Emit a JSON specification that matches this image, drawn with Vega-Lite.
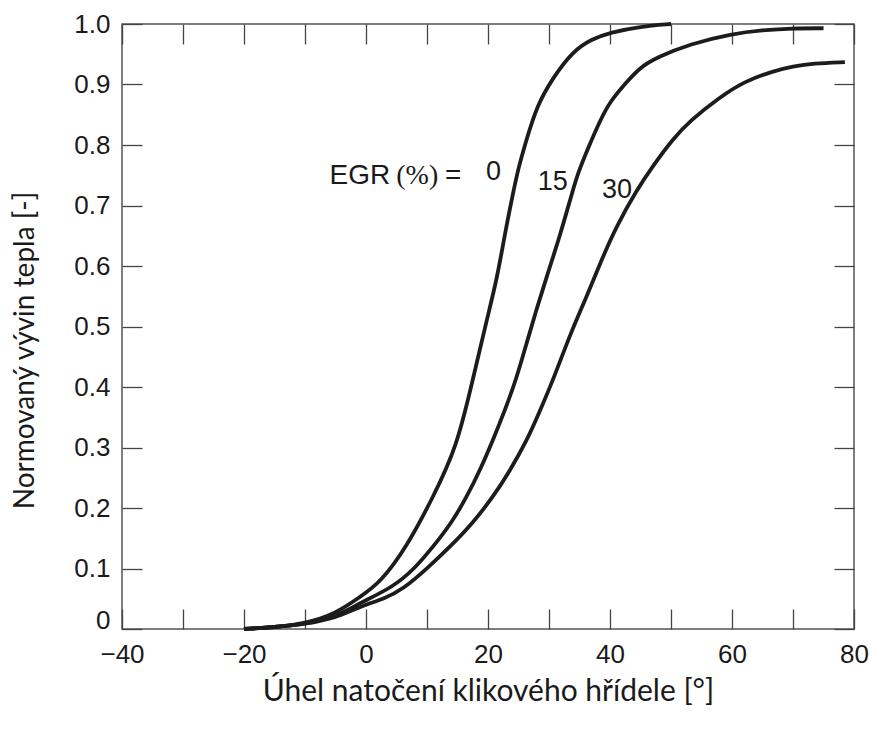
{
  "$schema": "https://vega.github.io/schema/vega-lite/v6.json",
  "width": 732,
  "height": 605,
  "autosize": {"type": "none"},
  "padding": {"left": 122, "top": 24, "right": 17, "bottom": 100},
  "background": "white",
  "config": {
    "view": {"stroke": "#555555", "strokeWidth": 1.5},
    "axis": {
      "grid": false,
      "domain": false,
      "tickColor": "#444444",
      "tickWidth": 1.3,
      "labelFont": "Liberation Sans",
      "labelFontSize": 26,
      "labelColor": "#1a1a1a",
      "titleFont": "Lato",
      "titleFontWeight": "normal",
      "titleColor": "#1a1a1a"
    }
  },
  "datasets": {
    "curves": [
      {"egr": "0", "angle": -20, "q": 0},
      {"egr": "0", "angle": -15, "q": 0.003},
      {"egr": "0", "angle": -10, "q": 0.009},
      {"egr": "0", "angle": -5, "q": 0.025},
      {"egr": "0", "angle": -1, "q": 0.053},
      {"egr": "0", "angle": 2.3, "q": 0.076},
      {"egr": "0", "angle": 6.7, "q": 0.136},
      {"egr": "0", "angle": 11, "q": 0.218},
      {"egr": "0", "angle": 14.9, "q": 0.301},
      {"egr": "0", "angle": 17.5, "q": 0.412},
      {"egr": "0", "angle": 19.8, "q": 0.511},
      {"egr": "0", "angle": 21.5, "q": 0.58},
      {"egr": "0", "angle": 22.8, "q": 0.655},
      {"egr": "0", "angle": 24, "q": 0.715},
      {"egr": "0", "angle": 24.9, "q": 0.759},
      {"egr": "0", "angle": 26.2, "q": 0.805},
      {"egr": "0", "angle": 28, "q": 0.865},
      {"egr": "0", "angle": 30.7, "q": 0.912},
      {"egr": "0", "angle": 33.9, "q": 0.955},
      {"egr": "0", "angle": 37, "q": 0.975},
      {"egr": "0", "angle": 40, "q": 0.986},
      {"egr": "0", "angle": 45, "q": 0.996},
      {"egr": "0", "angle": 50, "q": 1.0},
      {"egr": "15", "angle": -20, "q": 0},
      {"egr": "15", "angle": -15, "q": 0.003},
      {"egr": "15", "angle": -10, "q": 0.008},
      {"egr": "15", "angle": -5, "q": 0.02},
      {"egr": "15", "angle": -1, "q": 0.043},
      {"egr": "15", "angle": 4.4, "q": 0.069},
      {"egr": "15", "angle": 8, "q": 0.1},
      {"egr": "15", "angle": 11, "q": 0.136},
      {"egr": "15", "angle": 14, "q": 0.175},
      {"egr": "15", "angle": 16.5, "q": 0.218},
      {"egr": "15", "angle": 18.8, "q": 0.265},
      {"egr": "15", "angle": 20.8, "q": 0.312},
      {"egr": "15", "angle": 22.8, "q": 0.362},
      {"egr": "15", "angle": 24.7, "q": 0.415},
      {"egr": "15", "angle": 26.4, "q": 0.475},
      {"egr": "15", "angle": 28, "q": 0.53},
      {"egr": "15", "angle": 29.7, "q": 0.585},
      {"egr": "15", "angle": 31.8, "q": 0.65},
      {"egr": "15", "angle": 33.9, "q": 0.725},
      {"egr": "15", "angle": 34.8, "q": 0.755},
      {"egr": "15", "angle": 36.4, "q": 0.795},
      {"egr": "15", "angle": 38.4, "q": 0.841},
      {"egr": "15", "angle": 40, "q": 0.872},
      {"egr": "15", "angle": 42.8, "q": 0.905},
      {"egr": "15", "angle": 44.9, "q": 0.928},
      {"egr": "15", "angle": 47.7, "q": 0.945},
      {"egr": "15", "angle": 53.1, "q": 0.967},
      {"egr": "15", "angle": 60, "q": 0.984},
      {"egr": "15", "angle": 65, "q": 0.99},
      {"egr": "15", "angle": 70, "q": 0.993},
      {"egr": "15", "angle": 75, "q": 0.993},
      {"egr": "30", "angle": -20, "q": 0},
      {"egr": "30", "angle": -15, "q": 0.003},
      {"egr": "30", "angle": -10, "q": 0.008},
      {"egr": "30", "angle": -5, "q": 0.018},
      {"egr": "30", "angle": -1, "q": 0.037},
      {"egr": "30", "angle": 3, "q": 0.05},
      {"egr": "30", "angle": 6.1, "q": 0.066},
      {"egr": "30", "angle": 10, "q": 0.1},
      {"egr": "30", "angle": 13.8, "q": 0.136},
      {"egr": "30", "angle": 17.5, "q": 0.175},
      {"egr": "30", "angle": 20.8, "q": 0.218},
      {"egr": "30", "angle": 23.5, "q": 0.26},
      {"egr": "30", "angle": 26.4, "q": 0.312},
      {"egr": "30", "angle": 28.5, "q": 0.36},
      {"egr": "30", "angle": 31, "q": 0.42},
      {"egr": "30", "angle": 33.5, "q": 0.488},
      {"egr": "30", "angle": 36.2, "q": 0.55},
      {"egr": "30", "angle": 38.4, "q": 0.605},
      {"egr": "30", "angle": 41, "q": 0.665},
      {"egr": "30", "angle": 44.4, "q": 0.726},
      {"egr": "30", "angle": 47, "q": 0.765},
      {"egr": "30", "angle": 50.3, "q": 0.81},
      {"egr": "30", "angle": 53.1, "q": 0.84},
      {"egr": "30", "angle": 58, "q": 0.879},
      {"egr": "30", "angle": 62, "q": 0.905},
      {"egr": "30", "angle": 66.7, "q": 0.922},
      {"egr": "30", "angle": 70, "q": 0.93},
      {"egr": "30", "angle": 73.3, "q": 0.935},
      {"egr": "30", "angle": 78.5, "q": 0.937}
    ],
    "sansLabels": [
      {"text": "EGR", "angle": -1.0, "q": 0.749, "size": 28},
      {"text": "=", "angle": 14.3, "q": 0.749, "size": 28},
      {"text": "0", "angle": 20.9, "q": 0.755, "size": 27},
      {"text": "15", "angle": 30.6, "q": 0.739, "size": 27},
      {"text": "30", "angle": 41.15, "q": 0.726, "size": 27}
    ],
    "serifLabels": [
      {"text": "(%)", "angle": 8.4, "q": 0.749}
    ]
  },
  "layer": [
    {
      "data": {"name": "curves"},
      "mark": {"type": "line", "interpolate": "basis", "color": "#1c1c1c", "strokeWidth": 3.8, "strokeCap": "butt"},
      "encoding": {
        "x": {
          "field": "angle", "type": "quantitative",
          "scale": {"domain": [-40, 80], "nice": false, "zero": false},
          "axis": {
            "orient": "bottom",
            "values": [-40, -30, -20, -10, 0, 10, 20, 30, 40, 50, 60, 70, 80],
            "tickSize": -20,
            "labelPadding": 32,
            "labelExpr": "datum.value % 20 === 0 ? replace(format(datum.value, 'd'), '-', '\u2212') : ''",
            "labelFlush": false,
            "labelOverlap": false,
            "title": "Úhel natočení klikového hřídele [°]",
            "titleFontSize": 30,
            "titleBaseline": "alphabetic",
            "titleY": 71
          }
        },
        "y": {
          "field": "q", "type": "quantitative",
          "scale": {"domain": [0, 1], "nice": false},
          "axis": {
            "orient": "left",
            "values": [0, 0.1, 0.2, 0.3, 0.4, 0.5, 0.6, 0.7, 0.8, 0.9, 1.0],
            "tickSize": -20,
            "labelPadding": 32,
            "labelOffset": {"condition": {"test": "datum.value === 0", "value": -9}, "value": 0},
            "labelExpr": "datum.value === 0 ? '0' : format(datum.value, '.1f')",
            "labelFlush": false,
            "labelOverlap": false,
            "title": "Normovaný vývin tepla [-]",
            "titleFontSize": 28,
            "titleX": -83,
            "titleY": 326
          }
        },
        "detail": {"field": "egr"}
      }
    },
    {
      "data": {"name": "sansLabels"},
      "mark": {"type": "text", "font": "Liberation Sans", "color": "#1a1a1a", "baseline": "middle", "align": "center"},
      "encoding": {
        "x": {
          "field": "angle", "type": "quantitative",
          "axis": {
            "orient": "top",
            "values": [-40, -30, -20, -10, 0, 10, 20, 30, 40, 50, 60, 70, 80],
            "tickSize": -20,
            "labels": false,
            "title": null
          }
        },
        "y": {
          "field": "q", "type": "quantitative",
          "axis": {
            "orient": "right",
            "values": [0, 0.1, 0.2, 0.3, 0.4, 0.5, 0.6, 0.7, 0.8, 0.9, 1.0],
            "tickSize": -20,
            "labels": false,
            "title": null
          }
        },
        "text": {"field": "text"},
        "size": {"field": "size", "type": "quantitative", "scale": null}
      }
    },
    {
      "data": {"name": "serifLabels"},
      "mark": {"type": "text", "font": "Liberation Serif", "fontSize": 28, "color": "#1a1a1a", "baseline": "middle", "align": "center"},
      "encoding": {
        "x": {"field": "angle", "type": "quantitative", "axis": null},
        "y": {"field": "q", "type": "quantitative", "axis": null},
        "text": {"field": "text"}
      }
    }
  ]
}
